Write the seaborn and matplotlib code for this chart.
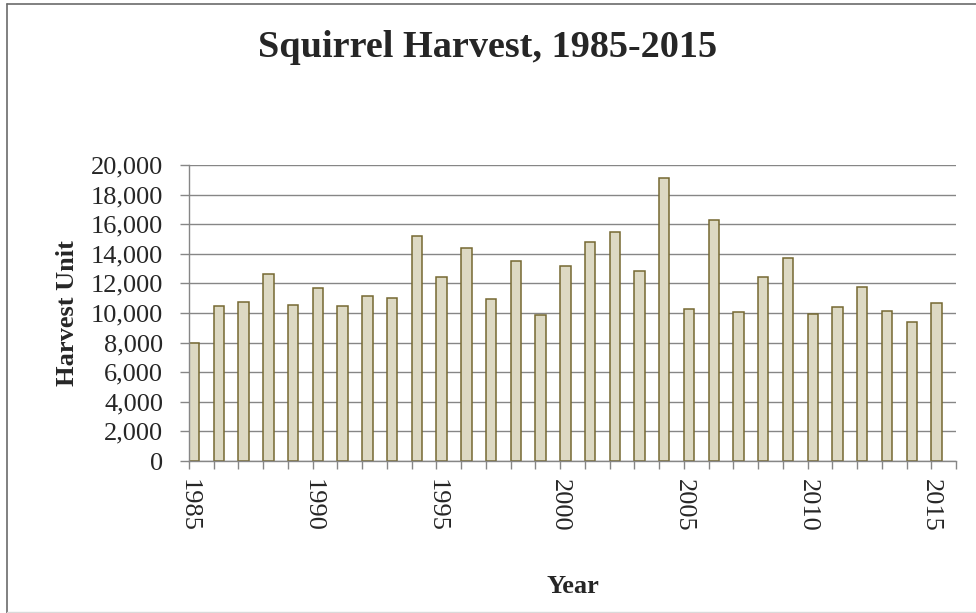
import numpy as np
import pandas as pd
import matplotlib
matplotlib.use('Agg')
import matplotlib.pyplot as plt
from matplotlib.lines import Line2D
import seaborn as sns

years = list(range(1985, 2016))
harvest = [8000, 10450, 10740, 12650, 10540, 11690, 10450, 11150, 11010, 15210,
           12430, 14360, 10940, 13510, 9890, 13170, 14810, 15480, 12850, 19150,
           10250, 16290, 10070, 12450, 13730, 9910, 10400, 11780, 10110, 9390, 10650]
tick_labels = ['1985', '1990', '1995', '2000', '2005', '2010', '2015']

df = pd.DataFrame({'Year': [str(y) for y in years], 'Harvest': harvest})

sns.set_style('white')
plt.rcParams['font.family'] = ['Liberation Serif', 'DejaVu Serif']

W, H = 976, 613
fig = plt.figure(figsize=(W / 100, H / 100), dpi=100)
ax = fig.add_axes([189 / W, 1 - 461 / H, (956 - 189) / W, (461 - 165) / H])

bw = 0.42
sns.barplot(data=df, x='Year', y='Harvest', color='#ddd9c3', edgecolor='#756832',
            linewidth=1.1, width=bw, saturation=1, ax=ax)

grid_c = '#868686'
ax.set_ylim(0, 20000)
ax.set_yticks(np.arange(0, 20001, 2000))
ax.set_yticklabels([f'{v:,}' for v in range(0, 20001, 2000)])
ax.yaxis.grid(True, color=grid_c, linewidth=1.0)
ax.set_axisbelow(True)

# category ticks sit at the left edge of each bar
n = len(years)
ax.set_xlim(-bw / 2, n - bw / 2)
ax.set_xticks(np.arange(n + 1) - bw / 2)
lbls = [''] * (n + 1)
for t in tick_labels:
    lbls[years.index(int(t))] = t
ax.set_xticklabels(lbls, rotation=270)

for s in ['top', 'right']:
    ax.spines[s].set_visible(False)
for s in ['left', 'bottom']:
    ax.spines[s].set_color(grid_c)
    ax.spines[s].set_linewidth(1.0)

ax.tick_params(axis='y', direction='out', length=6.5, width=1.0, color=grid_c,
               labelsize=19, pad=12, left=True)
ax.tick_params(axis='x', direction='out', length=6, width=1.0, color=grid_c,
               labelsize=19, pad=7, bottom=True)

ax.set_xlabel('Year', fontsize=19, fontweight='bold')
ax.set_ylabel('Harvest Unit', fontsize=19, fontweight='bold')
ax.xaxis.set_label_coords(0.5, (461 - 575) / 296)
ax.yaxis.set_label_coords((79 - 189) / 767, 0.5)

fig.suptitle('Squirrel Harvest, 1985-2015', fontsize=27.5, fontweight='bold',
             x=0.5, y=1 - 57 / H, va='baseline')

# outer chart frame
fig.add_artist(Line2D([7 / W, 7 / W], [0, 1 - 3.5 / H], transform=fig.transFigure,
                      color='#6b6b6b', linewidth=1.2))
fig.add_artist(Line2D([7 / W, 1], [1 - 3.5 / H, 1 - 3.5 / H], transform=fig.transFigure,
                      color='#6b6b6b', linewidth=1.2))
fig.add_artist(Line2D([7 / W, 1], [1 - 611.5 / H, 1 - 611.5 / H], transform=fig.transFigure,
                      color='#dadada', linewidth=1.0))

fig.savefig('out.png', dpi=100)
